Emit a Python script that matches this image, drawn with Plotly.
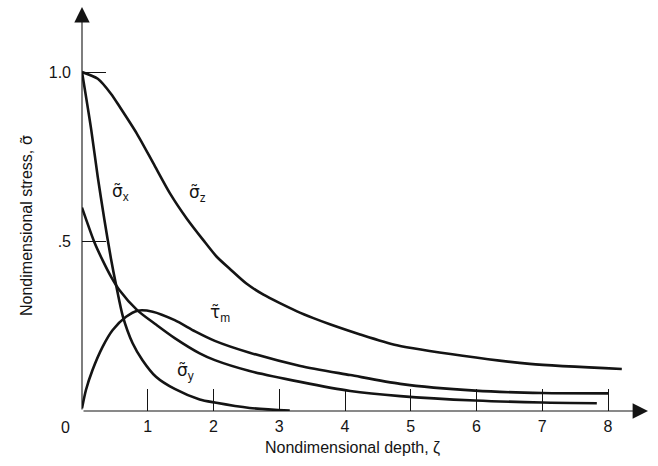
import plotly.graph_objects as go

# ---- data ----
zeta_sz = [0, 0.24, 0.44, 0.578, 0.832, 1.084, 1.338, 1.592, 1.845, 2.049, 2.25, 2.5, 2.76, 3.01, 3.27, 3.52, 3.77, 4.23, 4.79, 5.79, 6.81, 8.21]
sigma_z = [1.0, 0.98, 0.936, 0.896, 0.819, 0.731, 0.642, 0.568, 0.504, 0.455, 0.419, 0.376, 0.343, 0.318, 0.294, 0.274, 0.256, 0.226, 0.194, 0.163, 0.139, 0.124]

zeta_sx = [0, 0.14, 0.24, 0.34, 0.44, 0.52, 0.62, 0.77, 0.92, 1.125, 1.41, 1.79, 2.02, 2.55, 3.16]
sigma_x = [1.0, 0.83, 0.69, 0.565, 0.45, 0.37, 0.28, 0.2, 0.15, 0.101, 0.065, 0.034, 0.025, 0.009, 0.001]

zeta_sy = [0, 0.19, 0.32, 0.445, 0.568, 0.847, 1.125, 1.41, 1.79, 2.02, 2.55, 3.32, 4.08, 4.84, 5.98, 7.0, 7.83]
sigma_y = [0.6, 0.497, 0.442, 0.395, 0.357, 0.296, 0.255, 0.215, 0.17, 0.15, 0.118, 0.086, 0.059, 0.044, 0.031, 0.025, 0.023]

zeta_tm = [0, 0.06, 0.16, 0.315, 0.467, 0.67, 0.847, 1.075, 1.41, 1.72, 2.02, 2.55, 3.32, 4.08, 4.84, 5.98, 7.0, 8.0]
tau_m = [0.008, 0.062, 0.121, 0.19, 0.239, 0.278, 0.296, 0.293, 0.268, 0.235, 0.207, 0.172, 0.133, 0.106, 0.08, 0.06, 0.053, 0.052]

x_tick_vals = [1, 2, 3, 4, 5, 6, 7, 8]
x_tick_text = ["1", "2", "3", "4", "5", "6", "7", "8"]
y_tick_vals = [0.5, 1.0]
y_tick_text = [".5", "1.0"]

TILDE = "<span style='font-family:DejaVu Sans'>%s\u0303</span>"
curve_labels = [
    (TILDE % "σ" + "<sub>x</sub>", 0.58, 0.646),
    (TILDE % "σ" + "<sub>z</sub>", 1.76, 0.643),
    (TILDE % "τ" + "<sub>m</sub>", 2.10, 0.289),
    (TILDE % "σ" + "<sub>y</sub>", 1.58, 0.118),
]

FONT = "Liberation Sans, Arial, sans-serif"
INK = "#141414"

fig = go.Figure()
for zx, zy in [(zeta_sz, sigma_z), (zeta_sx, sigma_x), (zeta_sy, sigma_y), (zeta_tm, tau_m)]:
    fig.add_trace(go.Scatter(x=zx, y=zy, mode="lines",
                             line=dict(color=INK, width=2.6, shape="spline", smoothing=0.7),
                             showlegend=False, hoverinfo="skip"))

PW, PH = 566, 404
X_MAX = PW / 65.75
Y_MAX = PH / 339.0

for txt, xx, yy in curve_labels:
    fig.add_annotation(x=xx, y=yy, text=txt, showarrow=False,
                       xanchor="center", yanchor="middle",
                       font=dict(family=FONT, size=17, color=INK))

# origin label (paper coords, left of the corner)
fig.add_annotation(xref="paper", yref="paper", x=-17 / PW, y=-16 / PH,
                   xanchor="center", yanchor="middle",
                   text="0", showarrow=False,
                   font=dict(family=FONT, size=16, color=INK))

# axis titles
fig.add_annotation(xref="paper", yref="paper", x=270 / PW, y=-37 / PH,
                   xanchor="center", yanchor="middle",
                   text="Nondimensional depth, ζ", showarrow=False,
                   font=dict(family=FONT, size=16, color=INK))
fig.add_annotation(xref="paper", yref="paper", x=-56 / PW, y=(411 - 226) / PH,
                   xanchor="center", yanchor="middle",
                   text="Nondimensional stress, " + TILDE % "σ", showarrow=False,
                   textangle=-90,
                   font=dict(family=FONT, size=16, color=INK))

# axis arrows
fig.add_annotation(x=X_MAX, y=0, ax=0, ay=0, axref="x", ayref="y",
                   showarrow=True, arrowhead=2, arrowsize=2.8, arrowwidth=1.1,
                   arrowcolor=INK, text="")
fig.add_annotation(x=0, y=Y_MAX, ax=0, ay=0, axref="x", ayref="y",
                   showarrow=True, arrowhead=2, arrowsize=2.8, arrowwidth=1.1,
                   arrowcolor=INK, text="")

fig.update_layout(
    width=658, height=466,
    margin=dict(l=82, r=10, t=7, b=55),
    paper_bgcolor="white", plot_bgcolor="white",
    font=dict(family=FONT, size=16, color=INK),
    xaxis=dict(range=[0, X_MAX], showgrid=False, zeroline=False, showline=False,
               tickmode="array", tickvals=x_tick_vals, ticktext=x_tick_text,
               ticks="inside", ticklen=22, tickwidth=1, tickcolor=INK,
               ticklabelstandoff=4, tickfont=dict(size=16)),
    yaxis=dict(range=[0, Y_MAX], showgrid=False, zeroline=False, showline=False,
               tickmode="array", tickvals=y_tick_vals, ticktext=y_tick_text,
               ticks="inside", ticklen=24, tickwidth=1, tickcolor=INK,
               ticklabelstandoff=10, tickfont=dict(size=16)),
)

fig.write_html("out.html")
